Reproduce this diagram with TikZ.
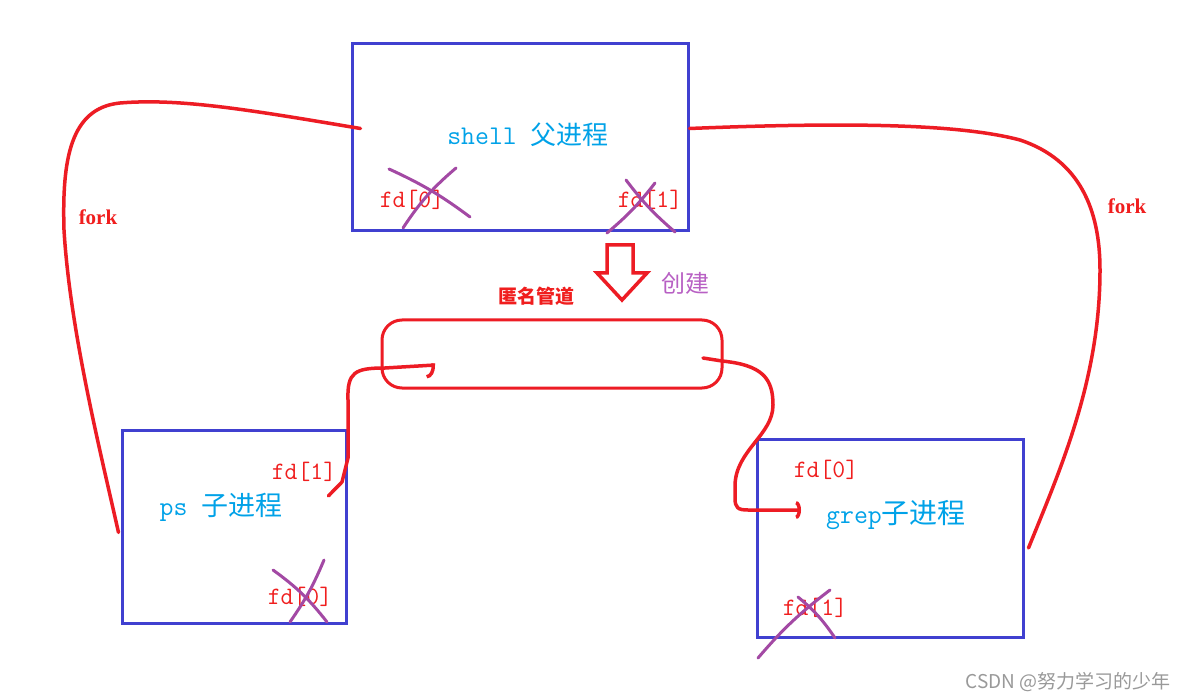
\documentclass[tikz,border=0pt]{standalone}
\usepackage{fontspec}
\usetikzlibrary{arrows.meta,calc}
\newfontfamily\cjkfont{Noto Sans CJK SC}
\newfontfamily\forkfont{Liberation Serif}
\definecolor{boxblue}{RGB}{64,64,208}
\definecolor{penred}{RGB}{237,28,36}
\definecolor{fdred}{RGB}{240,30,30}
\definecolor{labcyan}{RGB}{0,162,232}
\definecolor{crosspurple}{RGB}{163,73,164}
\definecolor{mkpurple}{RGB}{184,96,196}

\begin{document}
\begin{tikzpicture}[x=1pt,y=-1pt,
  procbox/.style={draw=boxblue,line width=3pt,inner sep=0pt},
  pipebox/.style={draw=penred,line width=3pt,rounded corners=20pt,inner sep=0pt},
  fdlab/.style={text=fdred,inner sep=0pt,font=\ttfamily\fontsize{25}{27}\selectfont},
  proclab/.style={text=labcyan,inner sep=0pt},
  forklab/.style={text=fdred,inner sep=0pt,font=\forkfont\bfseries\fontsize{21}{23}\selectfont},
  penline/.style={draw=penred,line width=3.5pt,line cap=round,line join=round},
  cross/.style={draw=crosspurple,line width=3pt,line cap=round}]
\useasboundingbox (0,0) rectangle (1188,700);
\fill[white] (0,0) rectangle (1188,700);

% processes and pipe
\node[procbox,minimum width=336pt,minimum height=187pt] (shell) at (520,137.5) {};
\node[procbox,minimum width=224pt,minimum height=193pt] (ps) at (234,526.5) {};
\node[procbox,minimum width=266pt,minimum height=198pt] (grep) at (890,538) {};
\node[pipebox,minimum width=340pt,minimum height=68pt] (pipe) at (552,354) {};

\node[proclab] (shelltxt) at (528,135) {\ttfamily\fontsize{27}{29}\selectfont shell \cjkfont\fontsize{26}{28}\selectfont 父进程};
\node[proclab] (pstxt) at (221,507) {\ttfamily\fontsize{27}{29}\selectfont ps \cjkfont\fontsize{27}{28}\selectfont 子进程};
\node[proclab] (greptxt) at (896,515) {\ttfamily\fontsize{27}{29}\selectfont grep\cjkfont\fontsize{28}{30}\selectfont 子进程};

\node[fdlab] (shellfd0) at (412,200) {fd[0]};
\node[fdlab] (shellfd1) at (650,200) {fd[1]};
\node[fdlab] (psfd1) at (304,472) {fd[1]};
\node[fdlab] (psfd0) at (300,597) {fd[0]};
\node[fdlab] (grepfd0) at (826,470) {fd[0]};
\node[fdlab] (grepfd1) at (815,608) {fd[1]};

% closed ends
\draw[cross] (389,169) to[bend left=6] (470,217);
\draw[cross] (456,168) to[bend right=8] (403,228);
\draw[cross] (626,180) to[bend right=6] (675,232);
\draw[cross] (655,183) to[bend left=6] (607,233);
\draw[cross] (273,570) to[bend left=8] (327,622);
\draw[cross] (324,560) to[bend left=6] (290,622);
\draw[cross] (798,597) to[bend left=8] (835,638);
\draw[cross] (830,590) to[bend right=6] (758,658);

% fork
\draw[penline] ([xshift=10pt,yshift=9pt]shell.west) .. controls (250,110) and (180,98) .. (120,103)
  .. controls (70,108) and (62,160) .. (64,230)
  .. controls (70,330) and (100,450) .. ([xshift=-2pt,yshift=-6pt]ps.west);
\draw[penline] ([yshift=9pt]shell.east) .. controls (850,122) and (960,124) .. (1020,140)
  .. controls (1080,160) and (1100,210) .. (1100,270)
  .. controls (1100,380) and (1060,470) .. ([xshift=4pt,yshift=-10pt]grep.east);
\node[forklab] (forkl) at (98,217) {fork};
\node[forklab] (forkr) at (1127,206) {fork};

% create pipe
\draw[draw=penred,line width=3.5pt,line join=miter] (607,245) -- (633,245) -- (633,273) -- (647,273)
  -- (622,300) -- (597,273) -- (607,273) -- cycle;
\node[text=mkpurple,inner sep=0pt,font=\cjkfont\fontsize{24}{26}\selectfont] (mk) at (685,283) {创建};
\node[text=fdred,inner sep=0pt,font=\cjkfont\bfseries\fontsize{19}{21}\selectfont] (pipetxt) at (536,296) {匿名管道};

% data flow through the pipe
\coordinate (pipein) at (435,365);
\coordinate (pipeout) at (703,358);
\coordinate (grepin) at (801,510);
\draw[penline,-{Arc Barb[harpoon,swap,length=9pt,width=26pt]}] ([xshift=-8pt,yshift=-14pt]psfd1.south east)
  -- (342,482) -- (348,458) -- (348,400) .. controls (347,372) and (355,368) .. (385,368) -- (pipein);
\draw[penline,-{Arc Barb[length=5pt,width=18pt]}] (pipeout) -- (722,361) .. controls (762,365) and (773,378) .. (773,405)
  .. controls (773,435) and (736,450) .. (735,485) -- (735,498) .. controls (735,508) and (738,510) .. (748,510) -- (grepin);

\node[text=black!40,inner sep=0pt,font=\cjkfont\fontsize{19}{21}\selectfont] (mark) at (1068,682) {CSDN @努力学习的少年};
\end{tikzpicture}
\end{document}
